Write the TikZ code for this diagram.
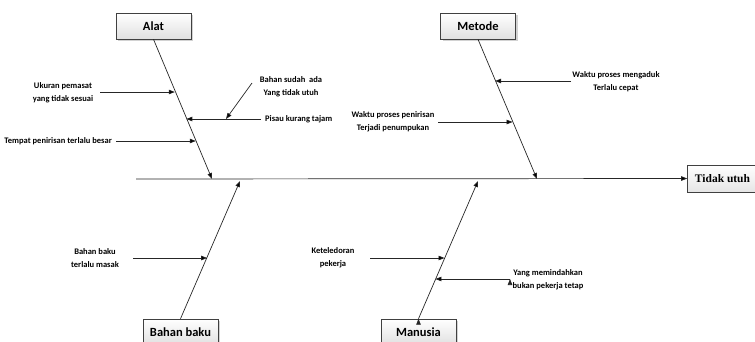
\documentclass[tikz,border=0pt]{standalone}
\usepackage{fontspec}
\setmainfont{Carlito}
\newfontfamily\timesfont{Liberation Serif}
\usetikzlibrary{positioning,shadows,arrows.meta}

\begin{document}
\begin{tikzpicture}[x=1pt,y=-1pt,>={Triangle[length=6pt,width=4.5pt]},
    kategori/.style={draw=black!75,line width=0.6pt,top color=white,bottom color=black!12,
      drop shadow={shadow xshift=2pt,shadow yshift=-2pt,fill=black!35},
      minimum width=75pt,minimum height=26pt,inner sep=2pt,
      font=\bfseries\fontsize{12.5}{14}\selectfont},
    sebab/.style={font=\bfseries\fontsize{8.5}{13}\selectfont,align=center,inner sep=1pt},
    tulang/.style={draw=black!85,line width=0.7pt}]
\useasboundingbox (0,0) rectangle (755,341);

% kepala ikan
\node[draw=black!75,line width=0.6pt,top color=white,bottom color=black!10,
  minimum width=70pt,minimum height=27pt,inner sep=2pt,
  font=\timesfont\bfseries\fontsize{11.5}{13}\selectfont] (akibat) at (722.5,178.5) {Tidak utuh};

% kategori
\node[kategori] (alat) at (153.5,26) {Alat};
\node[kategori] (metode) at (478,26) {Metode};
\node[kategori] (bahan) at (180.5,332) {Bahan baku};
\node[kategori] (manusia) at (418.5,332) {Manusia};

% titik pada tulang punggung
\coordinate (ekor) at (136,179);
\coordinate (a0) at (212,179);
\coordinate (m0) at (537,179);
\coordinate (b0) at (240,181);
\coordinate (n0) at (478,181);

\path[tulang,->] (ekor) edge (akibat.west)
  (alat.south) edge (a0)
  (metode.south) edge (m0)
  (bahan.north) edge (b0)
  (manusia.north) edge (n0);

% titik pada tulang
\coordinate (a1) at (174.8,92);
\coordinate (a2) at (186.3,119);
\coordinate (a3) at (195.8,141);
\coordinate (m1) at (495.1,81);
\coordinate (m2) at (512.6,122);
\coordinate (b1) at (207.1,258);
\coordinate (n1) at (444.5,258);
\coordinate (n2) at (435.4,279);

% sebab - alat
\node[sebab] (ukuran) at (63,92.5) {Ukuran pemasat\\yang tidak sesuai};
\node[sebab,anchor=west] (pisau) at (264,119) {Pisau kurang tajam};
\node[sebab] (sudah) at (291,86.5) {Bahan sudah\ \ ada\\Yang tidak utuh};
\node[sebab,anchor=east] (tempat) at (113,141) {Tempat penirisan terlalu besar};
\coordinate (ukuran-e) at (100,92);
\coordinate (sudah-s) at (252,83);
\coordinate (s1) at (226,119);

% sebab - metode
\node[sebab] (aduk) at (616,82) {Waktu proses mengaduk\\Terlalu cepat};
\node[sebab] (tiris) at (393,122) {Waktu proses penirisan\\Terjadi penumpukan};
\coordinate (aduk-w) at (571,81);
\coordinate (tiris-e) at (438,122);

% sebab - bahan baku
\node[sebab] (masak) at (95,258) {Bahan baku\\terlalu masak};
\coordinate (masak-e) at (133,258);

% sebab - manusia
\node[sebab] (lalai) at (333,258) {Keteledoran\\pekerja};
\node[sebab] (pindah) at (548,280) {Yang memindahkan\\bukan pekerja tetap};
\coordinate (lalai-e) at (370,258);
\coordinate (pindah-w) at (510,279);

\path[tulang,->]
  (ukuran-e) edge (a1)
  ([xshift=-3pt]pisau.west) edge (a2)
  (sudah-s) edge (s1)
  ([xshift=3pt]tempat.east) edge (a3)
  (aduk-w) edge (m1)
  (tiris-e) edge (m2)
  (masak-e) edge (b1)
  (lalai-e) edge (n1)
  (pindah-w) edge (n2);
\end{tikzpicture}
\end{document}
